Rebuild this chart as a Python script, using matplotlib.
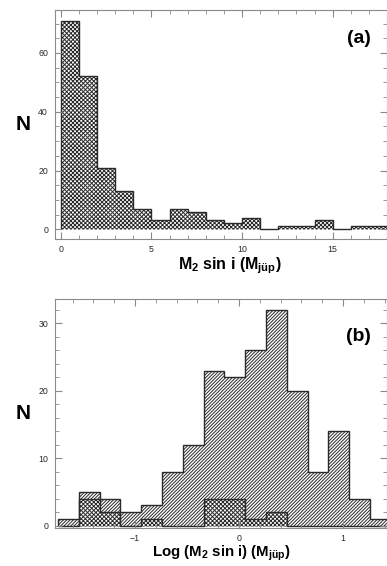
import numpy as np
import matplotlib
matplotlib.use("Agg")
import matplotlib.pyplot as plt
from matplotlib.ticker import MultipleLocator

# panel (a): M2 sin i histogram, 1 Mjup bins
edges_a = np.arange(0, 19, 1)
counts_a = [71, 52, 21, 13, 7, 3, 7, 6, 3, 2, 4, 0, 1, 1, 3, 0, 1, 1]

# panel (b): log histogram, 0.2 dex bins
edges_b = np.round(np.arange(-1.74, 1.47, 0.2), 2)
counts_b_all = [1, 5, 4, 2, 3, 8, 12, 23, 22, 26, 32, 20, 8, 14, 4, 1]
counts_b_sub = [0, 4, 2, 0, 1, 0, 0, 4, 4, 1, 2, 0, 0, 0, 0, 0]

plt.rcParams['font.family'] = ['Liberation Sans', 'DejaVu Sans']
plt.rcParams['mathtext.fontset'] = 'custom'
plt.rcParams['mathtext.rm'] = 'Liberation Sans:bold'
plt.rcParams['mathtext.it'] = 'Liberation Sans:bold'
plt.rcParams['mathtext.bf'] = 'Liberation Sans:bold'
plt.rcParams['mathtext.default'] = 'rm'
plt.rcParams['hatch.linewidth'] = 0.7

fig = plt.figure(figsize=(3.87, 5.66), dpi=100)
ax1 = fig.add_axes([0.142, 0.5772, 0.857, 0.405])
ax2 = fig.add_axes([0.142, 0.0671, 0.857, 0.4046])

spine_c = '#8a8a8a'
edge_c = '#2a2a2a'


def style(ax):
    for s in ax.spines.values():
        s.set_color(spine_c)
        s.set_linewidth(0.8)
    ax.tick_params(which='both', direction='in', top=True, right=True,
                   color=spine_c, labelcolor='#2a2a2a', labelsize=6.3)
    ax.tick_params(which='major', length=5, width=0.8)
    ax.tick_params(which='minor', length=3, width=0.6)
    ax.tick_params(axis='y', pad=5)
    ax.tick_params(axis='x', pad=4)
    ax.set_ylabel('N', fontsize=15, fontweight='bold', rotation=0,
                  labelpad=11, va='center')


ax1.stairs(counts_a, edges_a, fill=True, facecolor='white',
           edgecolor=edge_c, hatch='xxxxxxxx', linewidth=1.0)
ax1.set_xlim(-0.33, 17.98)
ax1.set_ylim(-3.4, 74.6)
ax1.xaxis.set_major_locator(MultipleLocator(5))
ax1.xaxis.set_minor_locator(MultipleLocator(1))
ax1.yaxis.set_major_locator(MultipleLocator(20))
ax1.yaxis.set_minor_locator(MultipleLocator(5))
style(ax1)
ax1.set_xlabel(r'M$_2$ sin i (M$_{jüp}$)', fontsize=11.5, fontweight='bold',
               va='center')
ax1.xaxis.set_label_coords(0.527, -0.115)
ax1.text(0.917, 0.878, '(a)', transform=ax1.transAxes, fontsize=14,
         fontweight='bold', ha='center', va='center')

ax2.stairs(counts_b_all, edges_b, fill=True, facecolor='white',
           edgecolor=edge_c, hatch='//////////', linewidth=1.0)
ax2.stairs(counts_b_sub, edges_b, fill=True, facecolor='white',
           edgecolor=edge_c, hatch='xxxxxxxx', linewidth=1.0)
ax2.set_xlim(-1.77, 1.42)
ax2.set_ylim(-0.34, 33.6)
ax2.xaxis.set_major_locator(MultipleLocator(1))
ax2.xaxis.set_minor_locator(MultipleLocator(0.2))
ax2.yaxis.set_major_locator(MultipleLocator(10))
ax2.yaxis.set_minor_locator(MultipleLocator(2))
style(ax2)
ax2.set_xlabel(r'Log (M$_2$ sin i) (M$_{jüp}$)', fontsize=10.8,
               fontweight='bold', va='center')
ax2.xaxis.set_label_coords(0.503, -0.112)
ax2.text(0.915, 0.838, '(b)', transform=ax2.transAxes, fontsize=14,
         fontweight='bold', ha='center', va='center')

fig.savefig('out.png', dpi=100)
